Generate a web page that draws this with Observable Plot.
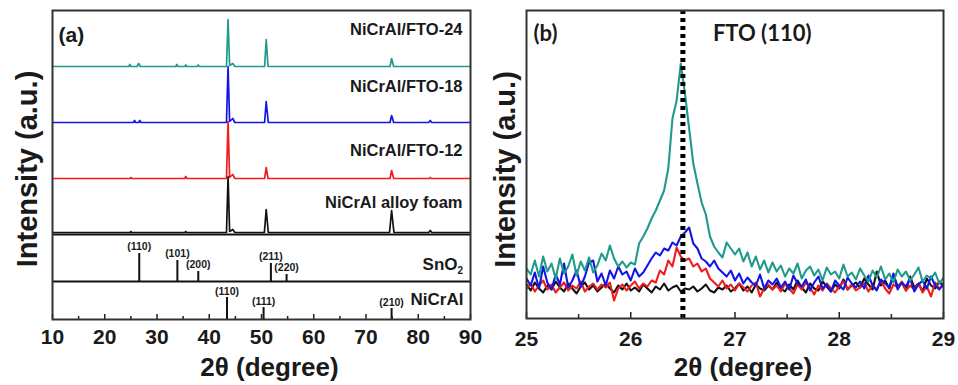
<!DOCTYPE html>
<html><head><meta charset="utf-8">
<script src="https://cdn.jsdelivr.net/npm/d3@7"></script>
<script src="https://cdn.jsdelivr.net/npm/@observablehq/plot@0.6"></script>
<style>
body{margin:0;background:#fff;}
#wrap{display:flex;width:958px;height:385px;overflow:hidden;background:#fff;}
#wrap svg{overflow:visible;}
</style></head><body><div id="wrap"></div>
<script>
// ---------- Panel (a) data ----------
const aTicks = [10, 20, 30, 40, 50, 60, 70, 80, 90];
const aMinorTicks = [15, 25, 35, 45, 55, 65, 75, 85];
const aNames = ["NiCrAl alloy foam", "NiCrAl/FTO-12", "NiCrAl/FTO-18", "NiCrAl/FTO-24"];
const aOffsets = [87, 141, 197, 253];
// [2theta, intensity above the trace's own baseline]
const foamPts = [[10,0],[24.8,0],[25,1],[25.2,0],[35.3,0],[35.5,1],[35.7,0],[43.3,0],[43.6,56],[43.9,1],[44.5,3],[44.9,0],[50.55,0],[50.9,23],[51.3,0],[74.5,0],[74.9,22],[75.35,0],[82.0,0],[82.3,2],[82.6,0],[90,0]];
const fto12Pts = [[10,0],[24.8,0],[25,1],[25.2,0],[35.3,0],[35.5,2],[35.7,0],[43.3,0],[43.6,57],[43.9,1],[44.5,4],[44.9,0],[50.6,0],[50.9,11],[51.25,0],[74.6,0],[74.9,8],[75.3,0],[82.1,0],[82.3,1],[82.5,0],[90,0]];
const fto18Pts = [[10,0],[25.5,0],[25.7,2],[25.9,0],[26.5,0],[26.7,2],[26.9,0],[43.3,0],[43.6,56],[43.9,1],[44.5,4],[44.9,0],[50.6,0],[50.9,21],[51.3,0],[74.6,0],[74.9,7],[75.3,0],[82.0,0],[82.3,2],[82.6,0],[90,0]];
const fto24Pts = [[10,0],[24.6,0],[24.8,2],[25.0,0],[26.2,0],[26.5,3],[26.8,0],[33.6,0],[33.8,2],[34.0,0],[35.3,0],[35.5,1.5],[35.7,0],[37.7,0],[37.9,1.5],[38.1,0],[43.3,0],[43.6,47],[43.9,1],[44.5,3],[44.9,0],[50.6,0],[50.9,27],[51.25,0],[74.6,0],[74.9,8],[75.3,0],[90,0]];
const aPts = [foamPts, fto12Pts, fto18Pts, fto24Pts];
// reference patterns
const refDividers = [38, 85];
const sno2Pos = [26.6, 33.9, 37.9, 51.8, 54.8];
const sno2H = [28, 21, 10, 18, 7];
const sno2Labels = ["(110)", "(101)", "(200)", "(211)", "(220)"];
const niPos = [43.4, 50.4, 74.9];
const niH = [22, 12, 11];
const niLabels = ["(110)", "(111)", "(210)"];

// ---------- Panel (b) data ----------
const bTicks = [25, 26, 27, 28, 29];
const bMinorTicks = [25.5, 26.5, 27.5, 28.5];
const bStart = 25, bStep = 0.04;
const bBlack = [34,28,36,30,26,33,29,37,31,27,35,30,25,32,36,29,33,27,31,35,
 30,26,33,29,35,28,31,27,34,30,26,32,29,35,28,31,33,27,30,29,
 32,27,30,34,28,26,31,29,33,27,30,35,28,32,26,34,30,28,33,29,
 36,30,27,34,29,38,31,26,35,30,28,37,32,27,34,30,39,29,33,36,
 31,40,34,29,47,33,38,30,44,32,36,28,42,31,35,27,40,33,30,37,32];
const bRed = [30,35,27,33,38,29,34,26,31,36,28,33,30,37,27,32,35,29,34,31,
 36,18,30,34,28,33,37,30,35,32,38,36,48,44,58,52,71,62,58,60,
 52,55,47,50,40,36,32,38,30,34,28,35,31,27,33,36,22,30,34,29,
 33,27,35,30,25,34,29,36,31,24,33,28,35,30,26,32,37,29,34,28,
 31,36,27,33,29,38,30,25,34,31,37,28,33,29,35,26,32,22,36,30,33];
const bBlue = [40,33,46,30,52,36,29,44,34,55,31,38,48,32,42,56,58,37,45,33,
 48,40,52,44,47,38,50,42,46,53,60,66,63,70,68,76,73,82,86,91,
 75,70,60,57,52,58,50,46,42,48,38,45,35,41,36,33,44,30,38,34,
 40,31,37,29,43,35,32,39,28,36,42,30,34,27,38,33,29,41,35,31,
 37,30,43,33,28,39,35,31,45,29,36,32,40,27,34,38,30,42,33,29,35];
const bTeal = [50,44,58,42,62,47,55,40,60,45,52,64,43,57,48,61,46,53,65,58,
 73,60,52,57,51,56,54,75,82,90,100,108,118,128,150,200,218,255,225,190,
 155,135,116,104,82,72,66,61,76,70,64,70,57,66,52,62,49,58,46,56,
 47,53,42,50,45,55,40,48,52,43,49,38,51,44,47,40,54,42,46,39,
 50,43,37,48,41,52,39,45,36,49,42,47,38,44,51,37,43,40,46,35,41];
const bSeries = [bBlack, bRed, bBlue, bTeal];
const fto110 = 26.5;

// ---------- styles ----------
const colors = ["#111111", "#ee1c1c", "#1414e6", "#1f9a8c"];
const FONT = "'Liberation Sans', Arial, sans-serif";
const ink = "#1a1a1a";
const bold = {fontWeight: "bold", fill: ink};

// ---------- Panel (a) ----------
const aMarks = [];
aPts.forEach((pts, i) => {
  const rows = pts.map(([x, v]) => ({x, y: v + aOffsets[i]}));
  aMarks.push(Plot.line(rows, {x: "x", y: "y", stroke: colors[i], strokeWidth: 1.7, clip: true}));
});
const lift = [30, 28, 36, 37];
aNames.forEach((n, i) => {
  aMarks.push(Plot.text([n], {x: 90, y: aOffsets[i] + lift[i], text: d => d, textAnchor: "end", dx: -8, fontSize: 16.5, ...bold}));
});
aMarks.push(
  Plot.ruleY(refDividers, {stroke: "#111", strokeWidth: 2}),
  Plot.ruleX(sno2Pos, {x: d => d, y1: refDividers[0], y2: (d, i) => refDividers[0] + sno2H[i], stroke: "#111", strokeWidth: 2}),
  Plot.text(sno2Pos, {x: d => d, y: (d, i) => refDividers[0] + sno2H[i], text: (d, i) => sno2Labels[i], dy: -7, fontSize: 10.5, ...bold}),
  Plot.ruleX(niPos, {x: d => d, y1: 0, y2: (d, i) => niH[i], stroke: "#111", strokeWidth: 2}),
  Plot.text(niPos, {x: d => d, y: (d, i) => niH[i], text: (d, i) => niLabels[i], dy: -6, fontSize: 10.5, ...bold}),
  Plot.text(["SnO"], {x: 90, y: 55, text: d => d, textAnchor: "end", dx: -13, fontSize: 17, ...bold}),
  Plot.text(["2"], {x: 90, y: 55, text: d => d, textAnchor: "start", dx: -13, dy: 6, fontSize: 10, ...bold}),
  Plot.text(["NiCrAl"], {x: 90, y: 20, text: d => d, textAnchor: "end", dx: -7, fontSize: 17, ...bold}),
  Plot.ruleX(aTicks, {x: d => d, y1: 0, y2: 5, stroke: "#222", strokeWidth: 1.5}),
  Plot.ruleX(aMinorTicks, {x: d => d, y1: 0, y2: 3, stroke: "#222", strokeWidth: 1.5}),
  Plot.frame({stroke: "#333", strokeWidth: 2}),
  Plot.text(aTicks, {x: d => d, y: 0, text: d => String(d), dy: 18, fontSize: 21, ...bold}),
  Plot.text(["2θ (degree)"], {frameAnchor: "bottom", text: d => d, textAnchor: "middle", lineAnchor: "middle", dx: 8, dy: 48, fontSize: 26, ...bold}),
  Plot.text(["Intensity (a.u.)"], {frameAnchor: "left", text: d => d, textAnchor: "middle", lineAnchor: "middle", dx: -25, dy: 4, rotate: -90, fontSize: 29, ...bold}),
  Plot.text(["(a)"], {frameAnchor: "top-left", text: d => d, textAnchor: "start", lineAnchor: "middle", dx: 6, dy: 25, fontSize: 21, ...bold})
);
const plotA = Plot.plot({
  width: 478, height: 385,
  marginLeft: 52, marginRight: 8, marginTop: 10, marginBottom: 66,
  x: {domain: [10, 90], axis: null},
  y: {domain: [0, 309], axis: null},
  style: {fontFamily: FONT, background: "transparent", overflow: "visible"},
  marks: aMarks
});

// ---------- Panel (b) ----------
const bMarks = [];
bSeries.forEach((vals, i) => {
  const rows = vals.map((v, k) => ({x: bStart + k * bStep, y: v}));
  bMarks.push(Plot.line(rows, {x: "x", y: "y", stroke: colors[i], strokeWidth: 2.1, clip: true}));
});
bMarks.push(
  Plot.ruleX([fto110], {x: d => d, stroke: "#000", strokeWidth: 5, strokeDasharray: "4,4"}),
  Plot.ruleX(bTicks, {x: d => d, y1: 0, y2: 6, stroke: "#222", strokeWidth: 1.5}),
  Plot.ruleX(bMinorTicks, {x: d => d, y1: 0, y2: 4, stroke: "#222", strokeWidth: 1.5}),
  Plot.frame({stroke: "#333", strokeWidth: 2}),
  Plot.text(bTicks, {x: d => d, y: 0, text: d => String(d), dy: 21, fontSize: 21, ...bold}),
  Plot.text(["2θ (degree)"], {frameAnchor: "bottom", text: d => d, textAnchor: "middle", lineAnchor: "middle", dx: 8, dy: 49, fontSize: 26, ...bold}),
  Plot.text(["Intensity (a.u.)"], {frameAnchor: "left", text: d => d, textAnchor: "middle", lineAnchor: "middle", dx: -21, dy: 5, rotate: -90, fontSize: 29, ...bold}),
  Plot.text(["(b)"], {frameAnchor: "top-left", text: d => d, textAnchor: "start", lineAnchor: "middle", dx: 7, dy: 23, fontSize: 22, fontFamily: "Lato, 'Open Sans', sans-serif", ...bold}),
  Plot.text(["FTO (110)"], {x: fto110, frameAnchor: "top", text: d => d, textAnchor: "start", lineAnchor: "middle", dx: 30, dy: 23, fontSize: 22, fontFamily: "Lato, 'Open Sans', sans-serif", ...bold})
);
const plotB = Plot.plot({
  width: 480, height: 385,
  marginLeft: 48, marginRight: 15, marginTop: 10, marginBottom: 67,
  x: {domain: [25, 29], axis: null},
  y: {domain: [0, 308], axis: null},
  style: {fontFamily: FONT, background: "transparent", overflow: "visible"},
  marks: bMarks
});

const wrap = document.getElementById("wrap");
wrap.append(plotA, plotB);
</script></body></html>
